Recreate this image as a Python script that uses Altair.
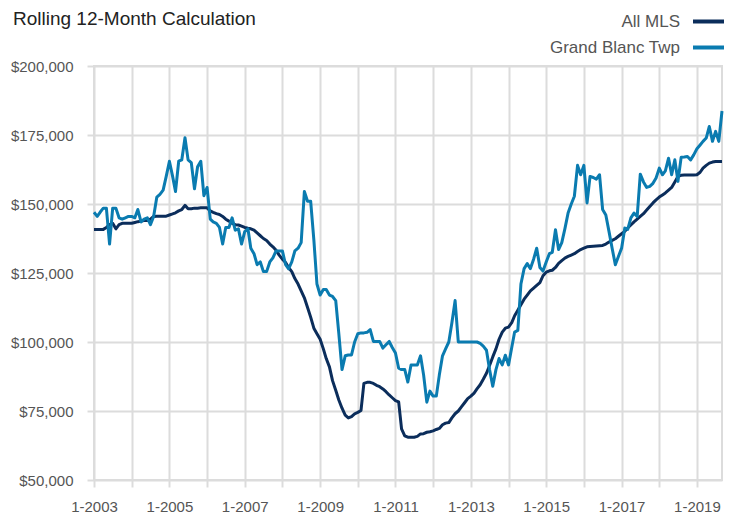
import altair as alt
import pandas as pd

FONT = "Liberation Sans, Arial, Helvetica, sans-serif"

series_names = ["All MLS", "Grand Blanc Twp"]
series_colors = ["#0b2d5b", "#0a7bb0"]

start_year = 2003
n_months = 201  # 1-2003 .. 9-2019

# values in thousands of dollars, monthly
all_mls = [
    140.8, 140.8, 140.8, 140.8, 141.5, 142.5, 143.0, 141.0, 142.5, 143.0, 143.0, 143.0,
    143.0, 143.3, 143.6, 143.8, 144.0, 144.0, 144.5, 145.5, 145.6, 145.6, 145.6, 145.6,
    146.0, 146.4, 146.8, 147.5, 148.0, 149.5, 148.3, 148.3, 148.5, 148.5, 148.6, 148.6,
    148.6, 147.5, 147.0, 146.5, 146.2, 145.5, 144.5, 143.8, 143.0, 142.5, 142.4, 142.0,
    141.5, 141.2, 141.0, 140.5, 139.5, 138.5, 137.5, 136.8, 135.5, 134.5, 133.2, 131.5,
    130.0, 128.8, 127.0, 125.5, 123.0, 121.0, 118.5, 116.0, 112.5, 109.0, 105.0, 103.0,
    101.0, 97.5, 94.0, 91.0, 86.0, 82.5, 79.0, 76.0, 73.5, 72.5, 73.0, 74.0,
    74.5, 75.2, 85.0, 85.4, 85.4, 85.0, 84.3, 83.8, 83.0, 82.0, 80.8, 79.8,
    78.8, 78.3, 68.5, 66.0, 65.5, 65.5, 65.5, 65.8, 66.7, 66.8, 67.3, 67.5,
    67.8, 68.3, 68.7, 70.0, 70.6, 70.8, 72.5, 74.0, 75.0, 76.5, 78.0, 79.5,
    80.4, 81.5, 83.0, 84.5, 86.5, 88.7, 91.5, 94.6, 97.5, 101.0, 103.6, 105.0,
    105.4, 107.0, 109.5, 111.5, 113.5, 115.5, 117.0, 118.5, 119.5, 120.5, 121.5, 124.0,
    125.3, 125.8, 126.0, 127.0, 128.5, 129.5, 130.4, 131.0, 131.5, 132.0, 132.8, 133.5,
    134.0, 134.5, 134.6, 134.7, 134.8, 134.9, 135.0, 135.5, 136.2, 136.8, 137.4, 138.3,
    139.2, 140.1, 141.3, 142.4, 143.5, 144.5, 145.5, 146.5, 147.8, 149.1, 150.4, 151.5,
    152.5, 153.3, 154.0, 155.0, 156.0, 158.0, 160.0, 160.4, 160.5, 160.5, 160.5, 160.5,
    160.6, 161.5, 163.0, 164.0, 164.8, 165.2, 165.4, 165.4, 165.4,
]

grand_blanc = [
    147.0, 145.5, 147.0, 148.5, 148.5, 135.5, 148.5, 148.5, 145.0, 144.5, 145.0, 145.5,
    145.5, 145.0, 148.0, 143.5, 144.5, 145.0, 142.5, 145.5, 152.5, 153.5, 155.0, 160.0,
    165.5, 160.0, 154.5, 165.5, 166.0, 174.0, 166.0, 165.0, 155.5, 163.5, 165.5, 153.0,
    156.0, 144.5, 143.5, 143.0, 141.5, 135.5, 141.5, 141.5, 145.0, 140.5, 141.0, 135.5,
    140.0, 141.0, 134.0, 132.0, 128.0, 129.0, 125.5, 125.5, 129.0, 130.5, 133.0, 133.0,
    133.0, 128.0, 126.5, 129.0, 133.0, 134.0, 136.0, 154.5, 151.0, 151.0, 137.0, 121.0,
    117.0, 119.0, 119.0, 117.0, 116.5, 115.0, 103.0, 90.0, 95.0, 95.3, 95.3, 100.0,
    103.0, 103.3, 103.3, 103.5, 104.5, 100.2, 100.2, 100.2, 97.8, 99.0, 100.2, 98.0,
    96.0, 90.5, 90.0, 90.0, 85.5, 91.7, 91.7, 91.7, 95.0, 88.0, 78.2, 82.2,
    80.4, 80.4, 88.0, 95.0, 97.5, 100.0, 107.0, 115.0, 100.0, 100.0, 100.0, 100.0,
    100.0, 100.0, 100.0, 99.5, 98.5, 97.0, 90.0, 84.0, 90.0, 94.0, 91.7, 95.2,
    91.7, 98.0, 103.6, 104.2, 121.0, 126.6, 128.4, 126.6, 130.0, 134.0, 127.0, 125.7,
    129.0, 132.0, 132.5, 140.7, 133.5, 136.0, 141.0, 146.7, 150.0, 152.8, 164.0, 160.6,
    164.0, 150.4, 160.0, 159.6, 159.0, 160.6, 148.0, 146.0, 140.0, 134.0, 128.0, 131.0,
    134.0, 141.3, 140.8, 145.0, 146.7, 145.5, 160.8, 158.0, 156.0, 156.4, 157.5, 159.4,
    163.0, 160.6, 162.0, 166.6, 160.6, 166.0, 158.2, 166.9, 167.0, 167.2, 166.0, 167.8,
    170.0, 171.4, 172.7, 173.9, 178.1, 172.7, 176.3, 172.7, 183.7,
]

y_ticks = [50000, 75000, 100000, 125000, 150000, 175000, 200000]
x_tick_years = list(range(2003, 2020))

dates = [f"{start_year + i // 12}-{i % 12 + 1:02d}-01" for i in range(n_months)]
rows = []
for name, vals in zip(series_names, [all_mls, grand_blanc]):
    for d, v in zip(dates, vals):
        rows.append({"date": d, "series": name, "value": v * 1000})
df = pd.DataFrame(rows)

chart = alt.Chart(df).mark_line(strokeWidth=3, strokeJoin="round").encode(
    x=alt.X(
        "date:T",
        scale=alt.Scale(
            type="utc",
            domain=[alt.DateTime(year=2003, month=1, date=1, utc=True),
                    alt.DateTime(year=2019, month=9, date=1, utc=True)],
            nice=False,
        ),
        axis=alt.Axis(
            title=None,
            values=[alt.DateTime(year=y, month=1, date=1, utc=True) for y in x_tick_years],
            labelExpr="utcyear(datum.value) % 2 == 1 ? '1-' + utcyear(datum.value) : ''",
            labelPadding=12,
            labelFlush=False,
            labelOverlap=False,
        ),
    ),
    y=alt.Y(
        "value:Q",
        scale=alt.Scale(domain=[50000, 200000], nice=False),
        axis=alt.Axis(title=None, values=y_ticks, format="$,.0f", labelPadding=14),
    ),
    color=alt.Color(
        "series:N",
        scale=alt.Scale(domain=series_names, range=series_colors),
        legend=alt.Legend(
            title=None,
            orient="none",
            legendX=597,
            legendY=-62,
            direction="vertical",
            symbolType="stroke",
            symbolSize=961,
            symbolStrokeWidth=4,
            labelFont=FONT,
            labelFontSize=17,
            labelColor="#555555",
            labelAlign="right",
            labelOffset={"expr": "-46"},
            rowPadding={"expr": "-12"},
            padding=0,
        ),
    ),
).properties(
    width=628,
    height=414,
    autosize=alt.AutoSizeParams(type="none"),
    padding={"left": 86, "top": 58, "right": 3, "bottom": 40},
    title=alt.TitleParams(
        "Rolling 12-Month Calculation",
        anchor="start",
        frame="group",
        dx=-81,
        dy=40,
        offset=0,
        baseline="alphabetic",
        font=FONT,
        fontSize=19,
        fontWeight="normal",
        color="#222222",
    ),
).configure_view(
    stroke="#dcdcdc", strokeWidth=2
).configure_axis(
    gridColor="#dcdcdc",
    gridWidth=2,
    tickColor="#dcdcdc",
    tickWidth=2,
    tickSize=7,
    domain=False,
    labelFont=FONT,
    labelFontSize=15,
    labelColor="#555555",
)

chart.save("out.html", embed_options={"renderer": "svg", "actions": False})
